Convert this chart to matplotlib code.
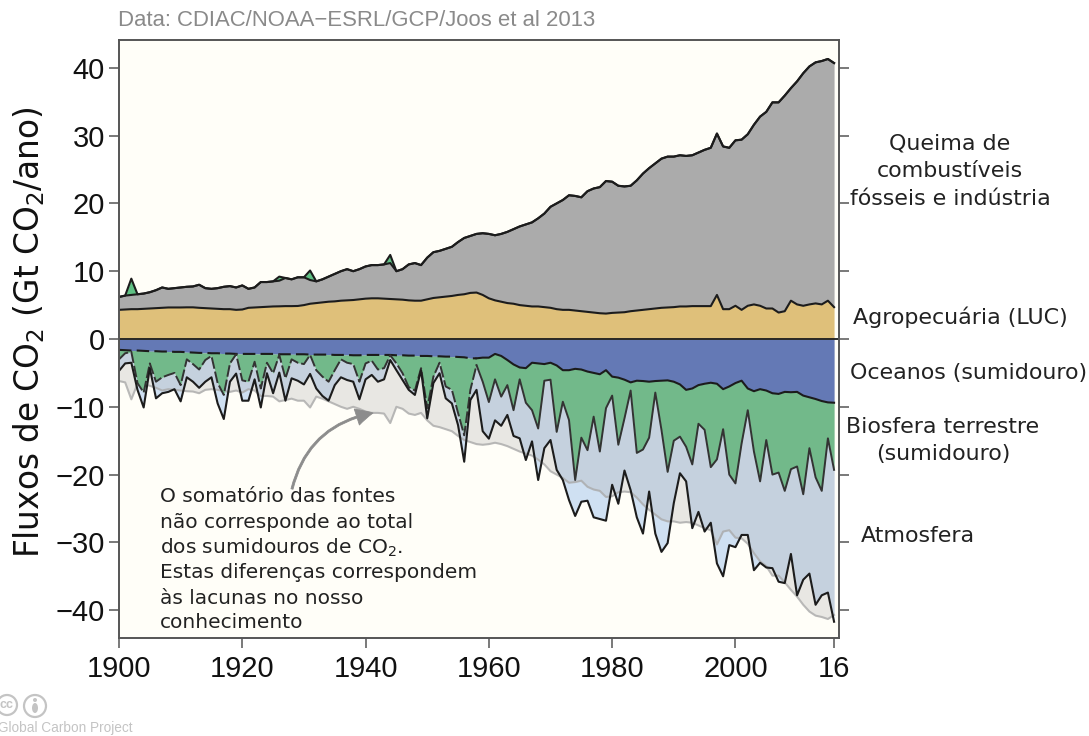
import matplotlib
matplotlib.use('Agg')
import matplotlib.pyplot as plt
import numpy as np
from matplotlib.patches import Circle, Ellipse

years = list(range(1900, 2017))

# top of the land use area
luc_top = [4.3, 4.35, 4.4, 4.4, 4.45, 4.5, 4.55, 4.6, 4.65, 4.65,
           4.65, 4.67, 4.67, 4.6, 4.55, 4.5, 4.45, 4.4, 4.4, 4.3,
           4.35, 4.6, 4.65, 4.7, 4.75, 4.8, 4.82, 4.85, 4.85, 4.87,
           5.0, 5.2, 5.3, 5.4, 5.5, 5.55, 5.65, 5.7, 5.75, 5.85,
           5.95, 6.0, 6.0, 5.95, 5.9, 5.85, 5.8, 5.7, 5.65, 5.65,
           5.85, 6.05, 6.15, 6.25, 6.35, 6.5, 6.6, 6.8, 6.85, 6.5,
           6.0, 5.7, 5.5, 5.3, 5.2, 5.0, 4.9, 4.8, 4.8, 4.7,
           4.6, 4.4, 4.3, 4.3, 4.2, 4.1, 4.0, 3.9, 3.8, 3.75,
           3.85, 3.9, 3.95, 4.1, 4.2, 4.3, 4.4, 4.5, 4.6, 4.65,
           4.7, 4.8, 4.8, 4.85, 4.85, 4.85, 4.85, 6.5, 4.4, 4.4,
           4.9, 4.3, 4.9, 5.1, 4.9, 4.5, 4.5, 3.9, 4.1, 5.65,
           5.1, 4.9, 5.1, 5.25, 5.1, 5.65, 4.7]

# top of the fossil area
total_top = [6.2, 6.4, 6.5, 6.6, 6.7, 6.9, 7.2, 7.6, 7.4, 7.5,
             7.6, 7.7, 7.75, 8.0, 7.5, 7.4, 7.5, 7.7, 7.8, 7.6,
             7.9, 7.4, 7.6, 8.4, 8.4, 8.5, 8.6, 9.0, 8.8, 9.1,
             9.1, 8.7, 8.5, 8.8, 9.2, 9.6, 10.0, 10.3, 10.0, 10.3,
             10.7, 10.9, 10.9, 11.0, 11.2, 10.0, 10.3, 11.0, 11.2, 10.9,
             12.0, 12.8, 13.0, 13.3, 13.6, 14.3, 14.9, 15.2, 15.5, 15.6,
             15.5, 15.3, 15.5, 15.8, 16.2, 16.6, 16.9, 17.2, 17.8, 18.5,
             19.5, 20.0, 20.5, 21.2, 21.1, 20.9, 21.8, 22.2, 22.4, 23.3,
             23.2, 22.6, 22.5, 22.6, 23.4, 24.4, 25.2, 25.9, 26.6, 26.9,
             26.9, 27.1, 27.0, 27.1, 27.5, 27.9, 28.2, 30.3, 28.4, 28.2,
             29.3, 29.4, 30.2, 31.6, 32.8, 33.5, 34.9, 34.9, 35.9, 37.0,
             38.0, 39.2, 40.2, 40.8, 41.0, 41.3, 40.7]

# years when the land was a source, stacked above the fossil area
land_source_years = [1902, 1926, 1931, 1944]
land_source_tops = [8.9, 9.2, 10.1, 12.4]

ocean_low = [-1.6, -1.65, -1.7, -1.7, -1.75, -1.8, -1.8, -1.85, -1.85, -1.9,
             -1.9, -1.95, -2.0, -2.05, -2.05, -2.1, -2.1, -2.15, -2.15, -2.2,
             -2.2, -2.2, -2.2, -2.2, -2.2, -2.2, -2.25, -2.25, -2.25, -2.25,
             -2.25, -2.3, -2.3, -2.3, -2.3, -2.35, -2.35, -2.35, -2.4, -2.4,
             -2.35, -2.35, -2.35, -2.35, -2.35, -2.4, -2.4, -2.45, -2.45, -2.5,
             -2.5, -2.55, -2.55, -2.6, -2.6, -2.65, -2.7, -2.85, -2.85, -2.75,
             -2.75, -2.2, -2.5, -3.1, -3.75, -4.2, -4.3, -3.5, -3.6, -3.7,
             -3.5, -3.9, -4.6, -4.6, -4.4, -4.5, -4.8, -5.0, -5.2, -4.6,
             -5.55, -5.7, -6.0, -6.4, -6.15, -6.2, -6.3, -6.2, -6.15, -6.1,
             -6.3, -6.7, -7.5, -7.3, -6.8, -6.6, -6.45, -6.6, -7.4, -7.0,
             -6.5, -6.15, -7.3, -7.7, -7.4, -7.6, -8.0, -8.1, -7.8, -7.85,
             -7.8, -8.35, -8.6, -8.85, -9.15, -9.35, -9.4]

land_low = [-3.0, -2.1, -1.9, -6.5, -7.9, -3.6, -6.3, -5.65, -5.3, -5.0,
            -6.8, -3.0, -3.7, -4.5, -3.1, -2.5, -6.5, -8.25, -3.6, -2.25,
            -6.1, -6.3, -3.35, -7.3, -3.5, -5.05, -2.35, -5.8, -3.0, -3.5,
            -3.7, -2.35, -4.6, -5.55, -6.3, -4.6, -3.0, -3.5, -3.7, -6.3,
            -3.6, -3.2, -4.5, -4.3, -2.4, -3.6, -5.05, -7.1, -7.6, -4.3,
            -10.2, -5.55, -3.5, -7.0, -7.5, -10.9, -14.2, -7.5, -3.85, -6.3,
            -9.3, -5.95, -8.5, -6.8, -10.5, -5.95, -9.4, -10.5, -13.2, -6.15,
            -6.0, -13.7, -9.25, -11.95, -20.8, -14.55, -16.4, -11.45, -16.6, -10.2,
            -8.35, -15.6, -11.7, -7.6, -16.8, -16.3, -14.55, -7.9, -13.4, -19.6,
            -15.0, -14.4, -15.9, -18.5, -12.5, -13.4, -18.9, -17.75, -13.3, -20.0,
            -21.3, -15.4, -10.5, -16.6, -21.0, -14.9, -20.0, -19.7, -22.4, -19.2,
            -18.8, -22.9, -16.1, -20.4, -22.4, -14.65, -19.3]

atmosphere_low = [-4.7, -3.6, -3.5, -7.5, -10.1, -4.3, -8.75, -8.0, -7.8, -7.4,
                  -9.2, -5.65, -6.3, -7.2, -6.3, -5.65, -9.5, -11.8, -6.3, -5.1,
                  -9.1, -9.1, -5.95, -10.1, -5.05, -8.0, -4.95, -9.1, -5.8, -6.15,
                  -6.7, -5.15, -7.3, -8.4, -9.1, -6.8, -5.65, -6.05, -6.3, -8.9,
                  -5.95, -5.3, -6.3, -5.95, -3.1, -4.6, -6.05, -7.5, -8.25, -4.6,
                  -11.7, -6.5, -5.05, -8.75, -9.5, -12.7, -18.1, -9.0, -7.5, -13.6,
                  -14.7, -12.0, -12.8, -11.2, -14.3, -14.65, -17.85, -15.1, -20.8, -16.1,
                  -14.9, -19.3, -20.8, -23.75, -26.1, -24.0, -23.85, -26.3, -26.55, -26.8,
                  -21.5, -24.3, -19.4, -22.3, -26.3, -28.7, -22.5, -28.7, -31.4, -30.1,
                  -24.2, -19.8, -21.0, -27.9, -25.5, -28.4, -27.1, -33.1, -35.0, -30.4,
                  -30.7, -28.9, -28.9, -34.1, -33.0, -33.7, -33.8, -35.8, -36.0, -31.7,
                  -37.8, -35.5, -34.6, -39.2, -37.8, -37.4, -41.7]

x_ticks = [1900, 1920, 1940, 1960, 1980, 2000, 2016]
x_tick_labels = ['1900', '1920', '1940', '1960', '1980', '2000', '16']
y_ticks = [-40, -30, -20, -10, 0, 10, 20, 30, 40]
y_tick_labels = ['\u221240', '\u221230', '\u221220', '\u221210', '0', '10', '20', '30', '40']

# side labels: text, x, y in pixels, horizontal alignment
side_labels = [
    ('Queima de', 950, 144, 'center'),
    ('combustíveis', 950, 171, 'center'),
    ('fósseis e indústria', 950, 199, 'center'),
    ('Agropecuária (LUC)', 853, 317, 'left'),
    ('Oceanos (sumidouro)', 850, 373, 'left'),
    ('Biosfera terrestre', 943, 427, 'center'),
    ('(sumidouro)', 943, 454, 'center'),
    ('Atmosfera', 918, 536, 'center'),
]

note_lines = [
    'O somatório das fontes',
    'não corresponde ao total',
    'dos sumidouros de CO$_2$.',
    'Estas diferenças correspondem',
    'às lacunas no nosso',
    'conhecimento',
]
note_y = [497, 523, 548, 573, 598, 622]

BACKGROUND = '#fffef8'
LINE = '#1c1c1c'
SANS = ['Liberation Sans', 'DejaVu Sans']


def draw_areas(ax, x, source_top):
    neg_top = -source_top
    ax.fill_between(x, land_low, atmosphere_low, color='#cfe0f2', lw=0, zorder=1)
    ax.fill_between(x, 0, neg_top, color='#ababab', alpha=0.27, lw=0, zorder=2)
    ax.plot(x, neg_top, color='#aaaaaa', lw=1.5, alpha=0.8, zorder=2.5)

    ax.fill_between(x, 0, ocean_low, color='#6479b5', lw=0, zorder=3)
    ax.fill_between(x, ocean_low, land_low, color='#72b98a', lw=0, zorder=3)

    ax.fill_between(x, 0, luc_top, color='#dfc07a', lw=0, zorder=3)
    ax.fill_between(x, luc_top, total_top, color='#ababab', lw=0, zorder=3)
    ax.fill_between(x, total_top, source_top, color='#5fc184', lw=0, zorder=3)


def draw_lines(ax, x):
    # estimates before 1959 are dashed
    split = years.index(1958) + 1
    ax.plot(x, luc_top, color=LINE, lw=1.5, zorder=4)
    ax.plot(x, total_top, color=LINE, lw=1.5, zorder=4)
    ax.plot(x[:split], np.array(ocean_low)[:split], color=LINE, lw=1.5,
            dashes=(6, 2.5), zorder=4)
    ax.plot(x[split - 1:], np.array(ocean_low)[split - 1:], color=LINE, lw=1.5, zorder=4)
    ax.plot(x[:split], np.array(land_low)[:split], color='#333333', lw=1.4,
            dashes=(6, 1.5), zorder=4)
    ax.plot(x[split - 1:], np.array(land_low)[split - 1:], color='#333333', lw=1.4, zorder=4)
    ax.plot(x, atmosphere_low, color=LINE, lw=1.5, zorder=4)
    ax.axhline(0, color=LINE, lw=1.3, zorder=5)


def draw_overlay(fig):
    over = fig.add_axes([0, 0, 1, 1])
    over.set_xlim(0, 1089)
    over.set_ylim(736, 0)
    over.axis('off')
    over.patch.set_alpha(0)

    for label, px, py, align in side_labels:
        over.text(px, py, label, fontsize=15.9, color='#222222', ha=align, va='center')
    for line, py in zip(note_lines, note_y):
        over.text(160, py, line, fontsize=14.5, color='#222222', ha='left', va='center')

    over.text(118, 21, 'Data: CDIAC/NOAA\u2212ESRL/GCP/Joos et al 2013', fontsize=15.95,
              color='#8a8a8a', family=SANS, ha='left', va='center')
    over.text(-2, 728, 'Global Carbon Project', fontsize=9.8, color='#c4c4c4',
              family=SANS, ha='left', va='center')

    over.add_patch(Circle((7, 705), 10, fill=False, ec='#c4c4c4', lw=1.6))
    over.text(7, 705, 'cc', fontsize=9, color='#c4c4c4', family=SANS, ha='center',
              va='center', fontweight='bold')
    over.add_patch(Circle((35, 706), 11, fill=False, ec='#c4c4c4', lw=1.6))
    over.add_patch(Circle((35, 700), 2, color='#c4c4c4', lw=0))
    over.add_patch(Ellipse((35, 708), 6, 10, color='#c4c4c4', lw=0))

    over.annotate('', xy=(373, 413), xytext=(292, 489),
                  arrowprops=dict(arrowstyle='simple,head_width=1.2,head_length=1.2,tail_width=0.15',
                                  color='#8c8c8c', lw=0.6, shrinkA=0, shrinkB=0,
                                  connectionstyle='arc3,rad=-0.32'))


def run():
    x = np.array(years)
    source_top = np.array(total_top)
    for year, top in zip(land_source_years, land_source_tops):
        source_top[years.index(year)] = top

    fig = plt.figure(figsize=(10.89, 7.36), dpi=100)
    ax = fig.add_axes([119 / 1089, (736 - 638) / 736, 720 / 1089, 598 / 736])
    ax.set_facecolor(BACKGROUND)

    draw_areas(ax, x, source_top)
    draw_lines(ax, x)
    ax.plot(x, source_top, color=LINE, lw=1.5, zorder=4)

    ax.set_xlim(1900, 2016.8)
    ax.set_ylim(-44.1, 44.1)
    ax.set_xticks(x_ticks)
    ax.set_xticklabels(x_tick_labels, fontsize=21, family=SANS, color='#111111')
    ax.set_yticks(y_ticks)
    ax.set_yticklabels(y_tick_labels, fontsize=21, family=SANS, color='#111111')
    ax.tick_params(axis='both', length=7, width=1.1, color='#555555', pad=5)
    ax.tick_params(axis='y', right=True, pad=3)
    for spine in ax.spines.values():
        spine.set_color('#555555')
        spine.set_linewidth(1.4)
        spine.set_zorder(6)
    ax.set_ylabel('Fluxos de CO$_2$ (Gt CO$_2$/ano)', fontsize=23.6, color='#111111')
    ax.yaxis.set_label_coords((47 - 119) / 720, (638 - 332) / 598)

    draw_overlay(fig)
    fig.savefig('out.png', dpi=100, facecolor='white')


if __name__ == '__main__':
    run()
